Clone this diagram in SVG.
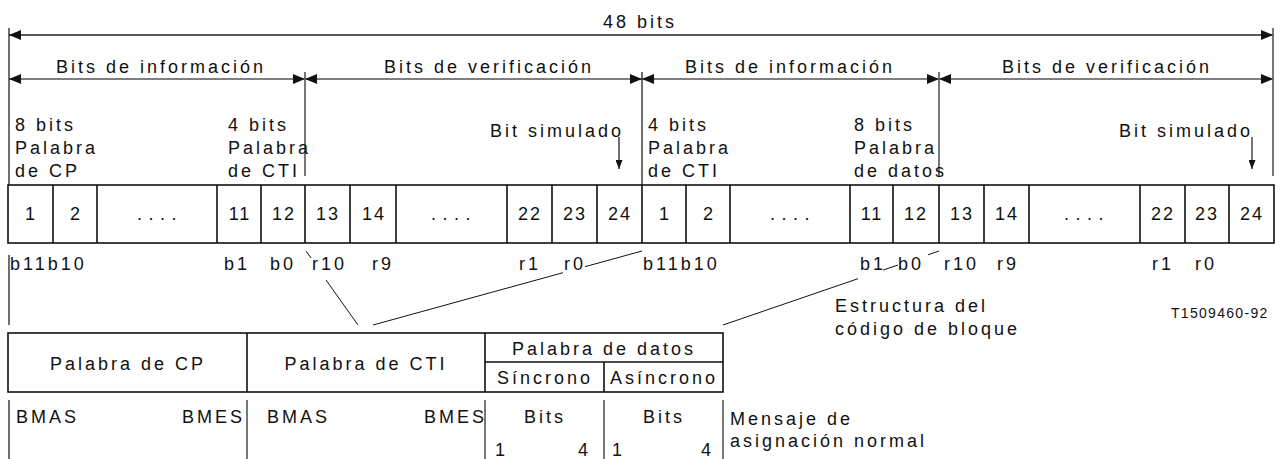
<svg xmlns="http://www.w3.org/2000/svg" width="1287" height="459" viewBox="0 0 1287 459">
<style>
text{font-family:"Liberation Sans",Arial,sans-serif;font-size:18px;fill:#111;letter-spacing:3px}
.c{text-anchor:middle}
.num{text-anchor:middle;letter-spacing:2px}
.dots{text-anchor:middle;letter-spacing:6.5px}
.sm{font-size:14px;letter-spacing:1.3px}
.ln{stroke:#222;stroke-width:1.3;fill:none}
.gl{stroke:#555;stroke-width:1.6;fill:none}
.bx{stroke:#111;stroke-width:1.6;fill:none}
.dg{stroke:#111;stroke-width:1;fill:none}
</style>
<defs>
<marker id="ah" markerUnits="userSpaceOnUse" markerWidth="13" markerHeight="10" refX="12" refY="5" orient="auto-start-reverse">
<path d="M0,0 L12,5 L0,10 Z" fill="#111"/>
</marker>
<marker id="sa" markerUnits="userSpaceOnUse" markerWidth="7" markerHeight="9" refX="3.5" refY="9" orient="0">
<path d="M0,0 L7,0 L3.5,9 Z" fill="#111"/>
</marker>
</defs>

<g id="connectors">
<line class="ln" x1="9" y1="35" x2="1273" y2="35" marker-start="url(#ah)" marker-end="url(#ah)"/>
<line class="gl" x1="9" y1="79" x2="305" y2="79" marker-start="url(#ah)" marker-end="url(#ah)"/>
<line class="gl" x1="305" y1="79" x2="642" y2="79" marker-start="url(#ah)" marker-end="url(#ah)"/>
<line class="gl" x1="642" y1="79" x2="939" y2="79" marker-start="url(#ah)" marker-end="url(#ah)"/>
<line class="gl" x1="939" y1="79" x2="1273" y2="79" marker-start="url(#ah)" marker-end="url(#ah)"/>
<line class="ln" x1="9" y1="28" x2="9" y2="185"/>
<line class="gl" x1="1273" y1="28" x2="1273" y2="176"/>
<line class="gl" x1="305" y1="72" x2="305" y2="176"/>
<line class="ln" x1="642" y1="72" x2="642" y2="185"/>
<line class="gl" x1="939" y1="72" x2="939" y2="176"/>
<line class="ln" x1="619" y1="137" x2="619" y2="169" marker-end="url(#sa)"/>
<line class="gl" x1="1252" y1="137" x2="1252" y2="169" marker-end="url(#sa)"/>
<line class="ln" x1="9" y1="255" x2="9" y2="325"/>
<line class="dg" x1="306" y1="251" x2="311" y2="258"/>
<line class="dg" x1="326" y1="280" x2="358" y2="325"/>
<line class="dg" x1="642" y1="251" x2="585" y2="266.7"/>
<line class="dg" x1="563" y1="272.7" x2="373" y2="325"/>
<line class="dg" x1="939" y1="251" x2="928" y2="254.8"/>
<line class="dg" x1="898" y1="265" x2="883" y2="270.1"/>
<line class="dg" x1="858" y1="278.7" x2="723" y2="325"/>
<line class="ln" x1="9" y1="400" x2="9" y2="459"/>
<line class="gl" x1="247" y1="400" x2="247" y2="459"/>
<line class="gl" x1="485" y1="400" x2="485" y2="459"/>
<line class="gl" x1="604" y1="400" x2="604" y2="459"/>
<line class="gl" x1="723" y1="400" x2="723" y2="459"/>
</g>

<g id="dimension-labels">
<text class="c" x="640" y="28">48 bits</text>
<text x="56" y="73">Bits de información</text>
<text x="384" y="73">Bits de verificación</text>
<text x="685" y="73">Bits de información</text>
<text x="1002" y="73">Bits de verificación</text>
</g>

<g id="field-labels">
<text x="15" y="131">8 bits</text>
<text x="15" y="154">Palabra</text>
<text x="15" y="177">de CP</text>
<text x="228" y="131">4 bits</text>
<text x="228" y="154">Palabra</text>
<text x="228" y="177">de CTI</text>
<text x="490" y="137">Bit simulado</text>
<text x="648" y="131">4 bits</text>
<text x="648" y="154">Palabra</text>
<text x="648" y="177">de CTI</text>
<text x="854" y="131">8 bits</text>
<text x="854" y="154">Palabra</text>
<text x="854" y="177">de datos</text>
<text x="1119" y="137">Bit simulado</text>
</g>

<g id="block-code">
<rect class="bx" x="8" y="185" width="1266" height="58"/>
<path class="bx" d="M53,185V243M97,185V243M217,185V243M261,185V243M305,185V243M350,185V243M396,185V243M507,185V243M552,185V243M597,185V243M642,185V243M686,185V243M730,185V243M850,185V243M893,185V243M939,185V243M984,185V243M1029,185V243M1140,185V243M1185,185V243M1229,185V243"/>
<text class="num" x="31" y="220">1</text>
<text class="num" x="76" y="220">2</text>
<text class="dots" x="160" y="220">....</text>
<text class="num" x="240" y="220">11</text>
<text class="num" x="284" y="220">12</text>
<text class="num" x="328" y="220">13</text>
<text class="num" x="374" y="220">14</text>
<text class="dots" x="454" y="220">....</text>
<text class="num" x="530" y="220">22</text>
<text class="num" x="575" y="220">23</text>
<text class="num" x="620" y="220">24</text>
<text class="num" x="665" y="220">1</text>
<text class="num" x="709" y="220">2</text>
<text class="dots" x="793" y="220">....</text>
<text class="num" x="872" y="220">11</text>
<text class="num" x="916" y="220">12</text>
<text class="num" x="962" y="220">13</text>
<text class="num" x="1007" y="220">14</text>
<text class="dots" x="1087" y="220">....</text>
<text class="num" x="1163" y="220">22</text>
<text class="num" x="1207" y="220">23</text>
<text class="num" x="1252" y="220">24</text>
</g>

<g id="bit-names">
<text x="10" y="270">b11b10</text>
<text x="224" y="270">b1</text>
<text x="270" y="270">b0</text>
<text x="312" y="270">r10</text>
<text x="372" y="270">r9</text>
<text x="519" y="270">r1</text>
<text x="564" y="270">r0</text>
<text x="643" y="270">b11b10</text>
<text x="860" y="270">b1</text>
<text x="898" y="270">b0</text>
<text x="944" y="270">r10</text>
<text x="997" y="270">r9</text>
<text x="1152" y="270">r1</text>
<text x="1195" y="270">r0</text>
</g>

<g id="caption">
<text x="835" y="312">Estructura del</text>
<text x="835" y="335">código de bloque</text>
<text class="sm" x="1171" y="318">T1509460-92</text>
</g>

<g id="message-table">
<rect class="bx" x="8" y="333" width="715" height="59"/>
<path class="bx" d="M247,333V392M485,333V392M485,362H723M604,362V392"/>
<text class="c" x="128" y="370">Palabra de CP</text>
<text class="c" x="366" y="370">Palabra de CTI</text>
<text class="c" x="604" y="355">Palabra de datos</text>
<text class="c" x="545" y="384">Síncrono</text>
<text class="c" x="664" y="384">Asíncrono</text>
</g>

<g id="message-labels">
<text x="16" y="423">BMAS</text>
<text x="182" y="423">BMES</text>
<text x="267" y="423">BMAS</text>
<text x="424" y="423">BMES</text>
<text class="c" x="545" y="423">Bits</text>
<text class="c" x="664" y="423">Bits</text>
<text x="495" y="456">1</text>
<text x="578" y="456">4</text>
<text x="612" y="456">1</text>
<text x="701" y="456">4</text>
<text x="730" y="425">Mensaje de</text>
<text x="730" y="447">asignación normal</text>
</g>
</svg>
